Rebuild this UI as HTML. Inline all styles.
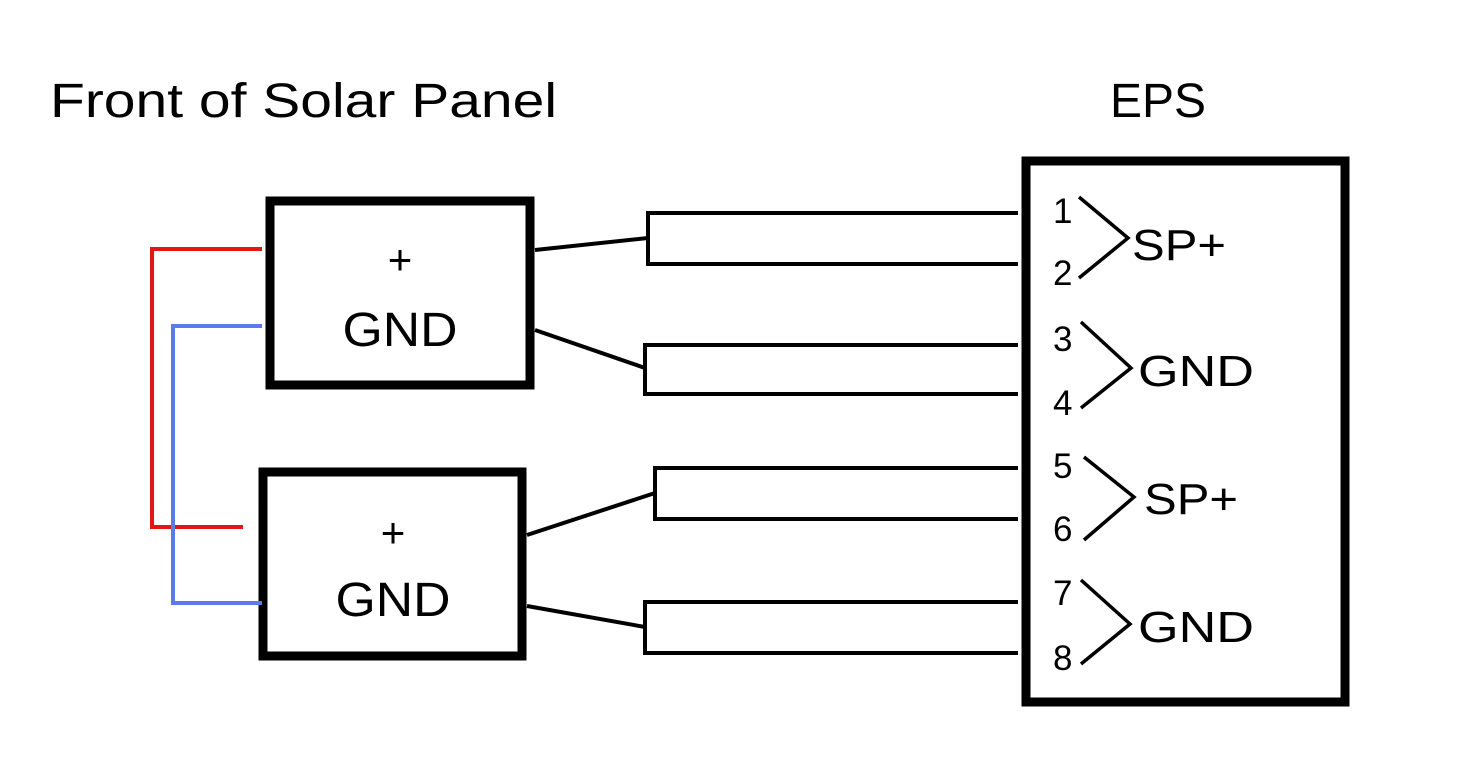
<!DOCTYPE html>
<html><head><meta charset="utf-8"><style>
html,body{margin:0;padding:0;background:#fff;}
svg{display:block;}
text{font-family:"Liberation Sans",sans-serif;fill:#000;}
</style></head><body>
<svg width="1462" height="778" viewBox="0 0 1462 778" xmlns="http://www.w3.org/2000/svg">
<rect width="1462" height="778" fill="#fff"/>
<text x="50" y="117" font-size="48" textLength="507" lengthAdjust="spacingAndGlyphs">Front of Solar Panel</text>
<text x="1110" y="117" font-size="48" textLength="96" lengthAdjust="spacingAndGlyphs">EPS</text>

<rect x="270" y="201" width="260" height="184" fill="none" stroke="#000" stroke-width="9"/>
<rect x="263" y="472" width="259" height="184" fill="none" stroke="#000" stroke-width="9"/>
<text x="400" y="274" font-size="42" text-anchor="middle">+</text>
<text x="400" y="346" font-size="48" text-anchor="middle" textLength="115" lengthAdjust="spacingAndGlyphs">GND</text>
<text x="393" y="547" font-size="42" text-anchor="middle">+</text>
<text x="393" y="616" font-size="48" text-anchor="middle" textLength="115" lengthAdjust="spacingAndGlyphs">GND</text>

<polyline points="262,249 152,249 152,527 243,527" fill="none" stroke="#e31515" stroke-width="4"/>
<polyline points="262,326 173,326 173,603 262,603" fill="none" stroke="#5b7bea" stroke-width="4"/>

<g fill="none" stroke="#000" stroke-width="4">
<line x1="535" y1="250" x2="648" y2="238"/>
<polyline points="1018,213 648,213 648,264 1018,264"/>
<line x1="535" y1="330" x2="645" y2="368"/>
<polyline points="1018,345 645,345 645,394 1018,394"/>
<line x1="527" y1="535" x2="655" y2="493"/>
<polyline points="1018,468 655,468 655,519 1018,519"/>
<line x1="527" y1="606" x2="645" y2="627"/>
<polyline points="1018,602 645,602 645,653 1018,653"/>
</g>

<rect x="1026" y="161" width="319" height="541" fill="none" stroke="#000" stroke-width="9"/>
<g fill="none" stroke="#000" stroke-width="3.5">
<polyline points="1079,197 1128,238 1079,278"/>
<polyline points="1081,322 1131,368 1081,408"/>
<polyline points="1084,457 1134,497 1084,540"/>
<polyline points="1081,580 1130,624 1081,664"/>
</g>
<g font-size="35">
<text x="1053" y="223">1</text>
<text x="1053" y="285">2</text>
<text x="1053" y="351">3</text>
<text x="1053" y="415">4</text>
<text x="1053" y="478">5</text>
<text x="1053" y="541">6</text>
<text x="1053" y="605">7</text>
<text x="1053" y="670">8</text>
</g>
<g font-size="44">
<text x="1132" y="260" textLength="94" lengthAdjust="spacingAndGlyphs">SP+</text>
<text x="1138" y="386" textLength="116" lengthAdjust="spacingAndGlyphs">GND</text>
<text x="1144" y="514" textLength="94" lengthAdjust="spacingAndGlyphs">SP+</text>
<text x="1138" y="642" textLength="116" lengthAdjust="spacingAndGlyphs">GND</text>
</g>
</svg>
</body></html>
